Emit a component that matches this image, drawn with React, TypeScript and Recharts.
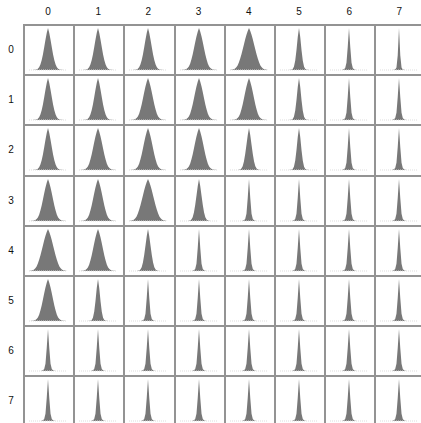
import { AreaChart, Area, XAxis, YAxis, ReferenceLine } from "recharts";

const rowLabels = ["0", "1", "2", "3", "4", "5", "6", "7"];
const colLabels = ["0", "1", "2", "3", "4", "5", "6", "7"];

// bin heights (peak = 100), 31 bins
const wideBins = [0.2, 0.4, 0.9, 1.8, 3.5, 6.5, 11, 18, 27, 37, 49, 61, 73, 84, 93, 100, 93, 84, 73, 61, 49, 37, 27, 18, 11, 6.5, 3.5, 1.8, 0.9, 0.4, 0.2];
const broadBins = [0.2, 0.2, 0.3, 0.5, 1, 2.2, 4.5, 8.5, 15, 25, 37, 51, 66, 80, 91, 100, 91, 80, 66, 51, 37, 25, 15, 8.5, 4.5, 2.2, 1, 0.5, 0.3, 0.2, 0.2];
const midBins = [0.2, 0.2, 0.2, 0.2, 0.3, 0.6, 1.3, 3, 6.5, 13, 23, 37, 54, 72, 88, 100, 88, 72, 54, 37, 23, 13, 6.5, 3, 1.3, 0.6, 0.3, 0.2, 0.2, 0.2, 0.2];
const narrowBins = [0.2, 0.2, 0.2, 0.2, 0.2, 0.2, 0.2, 0.4, 1.2, 3.5, 9, 20, 38, 60, 83, 100, 83, 60, 38, 20, 9, 3.5, 1.2, 0.4, 0.2, 0.2, 0.2, 0.2, 0.2, 0.2, 0.2];
const slimBins = [0.2, 0.2, 0.2, 0.2, 0.2, 0.2, 0.2, 0.2, 0.3, 0.8, 2.5, 8, 22, 47, 78, 100, 78, 47, 22, 8, 2.5, 0.8, 0.3, 0.2, 0.2, 0.2, 0.2, 0.2, 0.2, 0.2, 0.2];
const needleBins = [0.2, 0.2, 0.2, 0.2, 0.2, 0.2, 0.2, 0.2, 0.2, 0.2, 0.5, 1.5, 5, 17, 55, 100, 55, 17, 5, 1.5, 0.5, 0.2, 0.2, 0.2, 0.2, 0.2, 0.2, 0.2, 0.2, 0.2, 0.2];
const thinBins = [0.2, 0.2, 0.2, 0.2, 0.2, 0.2, 0.2, 0.2, 0.2, 0.2, 0.2, 0.3, 1, 6, 35, 100, 35, 6, 1, 0.3, 0.2, 0.2, 0.2, 0.2, 0.2, 0.2, 0.2, 0.2, 0.2, 0.2, 0.2];

const profiles: Record<string, number[]> = {
  A: wideBins,
  B: broadBins,
  C: midBins,
  G: narrowBins,
  D: slimBins,
  E: needleBins,
  F: thinBins,
};

// which profile each cell uses, row by row
const cellShapes = [
  ["C", "C", "C", "B", "A", "D", "E", "F"],
  ["C", "C", "B", "B", "B", "D", "E", "E"],
  ["C", "B", "B", "B", "G", "D", "E", "E"],
  ["B", "B", "A", "G", "E", "E", "E", "E"],
  ["A", "B", "G", "E", "E", "E", "E", "E"],
  ["B", "D", "E", "E", "E", "E", "E", "E"],
  ["E", "E", "E", "E", "E", "E", "E", "E"],
  ["E", "E", "E", "E", "E", "E", "E", "E"],
];

const LEFT = 23;
const TOP = 24;
const STEP = 50.2;
const LINE = "#939393";

function Cell({ bins }: { bins: number[] }) {
  const data = bins.map((v, i) => ({ bin: i, v }));
  const last = bins.length - 1;
  return (
    <AreaChart width={50} height={50} data={data} margin={{ top: 4, right: 6, bottom: 4, left: 6 }}>
      <XAxis type="number" dataKey="bin" domain={[0, last]} hide />
      <YAxis type="number" domain={[0, 100]} hide allowDataOverflow />
      <ReferenceLine
        segment={[{ x: 0, y: 0 }, { x: last, y: 0 }]}
        stroke="#ddd"
        strokeDasharray="1 1"
      />
      <Area
        type="linear"
        dataKey="v"
        stroke="none"
        fill="#787878"
        fillOpacity={1}
        isAnimationActive={false}
      />
    </AreaChart>
  );
}

export default function App() {
  return (
    <div
      style={{
        position: "absolute",
        left: 0,
        top: 0,
        width: 421,
        height: 423,
        overflow: "hidden",
        background: "#fff",
        fontFamily: "Liberation Sans, Arial, sans-serif",
        fontSize: 10,
        color: "#111",
      }}
    >
      {colLabels.map((l, c) => (
        <div
          key={"c" + l}
          style={{ position: "absolute", left: LEFT + c * STEP, top: 6, width: 50, textAlign: "center" }}
        >
          {l}
        </div>
      ))}
      {rowLabels.map((l, r) => (
        <div
          key={"r" + l}
          style={{ position: "absolute", left: 4, top: TOP + r * STEP + 20, width: 14, textAlign: "center" }}
        >
          {l}
        </div>
      ))}
      {cellShapes.map((row, r) =>
        row.map((s, c) => (
          <div
            key={r + "-" + c}
            style={{ position: "absolute", left: LEFT + c * STEP, top: TOP + r * STEP, width: 50, height: 50 }}
          >
            <Cell bins={profiles[s]} />
          </div>
        ))
      )}
      {colLabels.map((l, c) => (
        <div
          key={"v" + l}
          style={{
            position: "absolute",
            left: Math.round(LEFT + c * STEP),
            top: TOP,
            width: 2,
            height: 423 - TOP,
            background: LINE,
          }}
        />
      ))}
      {rowLabels.map((l, r) => (
        <div
          key={"h" + l}
          style={{
            position: "absolute",
            left: LEFT,
            top: Math.round(TOP + r * STEP),
            width: 421 - LEFT,
            height: 2,
            background: LINE,
          }}
        />
      ))}
    </div>
  );
}
